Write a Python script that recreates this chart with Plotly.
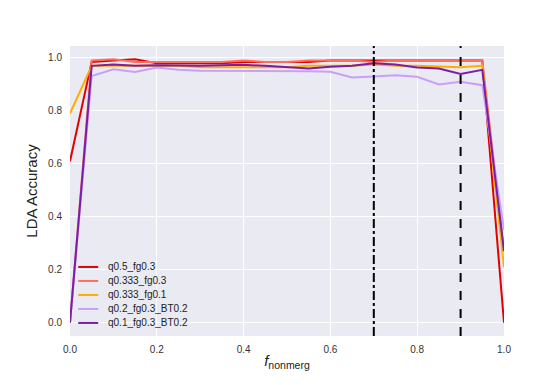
import plotly.graph_objects as go

# x grid of the sweep
f_nonmerg = [0.0, 0.05, 0.1, 0.15, 0.2, 0.25, 0.3, 0.35, 0.4, 0.45, 0.5,
             0.55, 0.6, 0.65, 0.7, 0.75, 0.8, 0.85, 0.9, 0.95, 1.0]

q05_fg03 = [0.61, 0.985, 0.99, 0.995, 0.98, 0.98, 0.98, 0.98, 0.985, 0.985, 0.985,
            0.985, 0.99, 0.99, 0.99, 0.99, 0.99, 0.99, 0.99, 0.99, 0.0]
q0333_fg03 = [0.0, 0.99, 0.995, 0.985, 0.985, 0.985, 0.985, 0.985, 0.99, 0.985, 0.985,
              0.99, 0.99, 0.99, 0.985, 0.99, 0.99, 0.99, 0.99, 0.99, 0.27]
q0333_fg01 = [0.79, 0.97, 0.97, 0.97, 0.97, 0.97, 0.965, 0.965, 0.965, 0.965, 0.965,
              0.97, 0.97, 0.97, 0.975, 0.97, 0.97, 0.967, 0.965, 0.97, 0.21]
q02_fg03_bt02 = [0.0, 0.932, 0.957, 0.947, 0.964, 0.955, 0.952, 0.952, 0.952, 0.952, 0.952,
                 0.95, 0.948, 0.926, 0.93, 0.935, 0.929, 0.90, 0.91, 0.897, 0.35]
q01_fg03_bt02 = [0.0, 0.97, 0.975, 0.97, 0.972, 0.97, 0.97, 0.972, 0.974, 0.97, 0.964,
                 0.96, 0.967, 0.97, 0.98, 0.975, 0.964, 0.96, 0.939, 0.955, 0.27]

series_names = ['q0.5_fg0.3', 'q0.333_fg0.3', 'q0.333_fg0.1', 'q0.2_fg0.3_BT0.2', 'q0.1_fg0.3_BT0.2']
series_values = [q05_fg03, q0333_fg03, q0333_fg01, q02_fg03_bt02, q01_fg03_bt02]
series_colors = ['#e50000', '#ff6f5e', '#ffae00', '#c9a0f8', '#7a1ea6']

# reference lines
vline_x = [0.7, 0.9]
vline_dash = ['dashdot', 'dash']

fig = go.Figure()
for name, vals, col in zip(series_names, series_values, series_colors):
    fig.add_trace(go.Scatter(x=f_nonmerg, y=vals, mode='lines', name=name,
                             line=dict(color=col, width=2), showlegend=False))

for xv, dash in zip(vline_x, vline_dash):
    fig.add_vline(x=xv, line=dict(color='black', width=2, dash=dash))

# compact matplotlib-style legend (plotly's own rows are too tall)
row_h = 14 / 290
for i, (name, col) in enumerate(zip(series_names, series_colors)):
    yy = 0.045 + (len(series_names) - 1 - i) * row_h
    fig.add_shape(type='line', xref='paper', yref='paper',
                  x0=0.019, x1=0.065, y0=yy, y1=yy, line=dict(color=col, width=2))
    fig.add_annotation(xref='paper', yref='paper', x=0.083, y=yy, text=name,
                       showarrow=False, xanchor='left', yanchor='middle',
                       font=dict(size=10, color='#222222'))

# page body adds an 8px offset, so margins are shifted by that
fig.update_layout(
    width=560, height=385,
    margin=dict(l=62, r=64, t=38, b=57),
    paper_bgcolor='white',
    plot_bgcolor='#EAEAF2',
    font=dict(family='Liberation Sans, Arial, sans-serif', color='#333333', size=10),
    showlegend=False,
)
fig.update_xaxes(range=[0, 1], dtick=0.2, tickformat='.1f', showgrid=True,
                 gridcolor='white', gridwidth=1, zeroline=False, showline=False,
                 ticks='outside', ticklen=4, tickcolor='rgba(0,0,0,0)', automargin=False,
                 title=dict(text='<i>f</i><sub>nonmerg</sub>',
                            font=dict(size=15, color='#222222'), standoff=1))
fig.update_yaxes(range=[-0.05, 1.045], dtick=0.2, tickformat='.1f', showgrid=True,
                 gridcolor='white', gridwidth=1, zeroline=False, showline=False,
                 ticks='outside', ticklen=5, tickcolor='rgba(0,0,0,0)', automargin=False,
                 title=dict(text='LDA Accuracy',
                            font=dict(size=15, color='#222222'), standoff=6))

fig.write_html("out.html")
